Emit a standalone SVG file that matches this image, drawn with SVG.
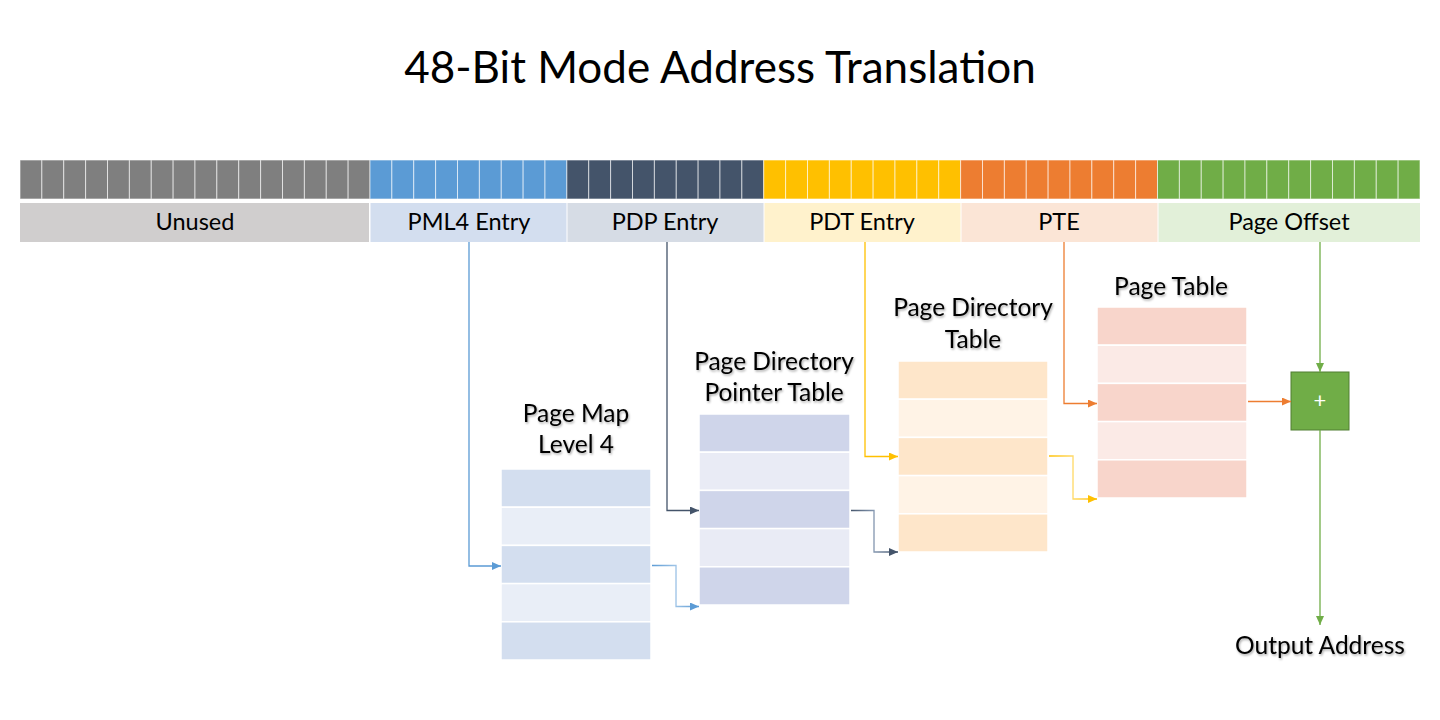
<svg xmlns="http://www.w3.org/2000/svg" width="1440" height="720" viewBox="0 0 1440 720">
<style>
text{font-family:Lato,"Open Sans","Liberation Sans",sans-serif;fill:#000;text-anchor:middle}
.title{font-size:44px}
.lbl{font-size:23.5px}
.tt{font-size:24.5px}
.bit{stroke:#fff;stroke-opacity:.6;stroke-width:1}
.g0{fill:#7F7F7F}.g1{fill:#5B9BD5}.g2{fill:#44546A}.g3{fill:#FFC000}.g4{fill:#ED7D31}.g5{fill:#70AD47}
.row{stroke:#fff;stroke-width:1.5}
.c{fill:none;stroke-width:1.3}
</style>
<defs>
<filter id="sh" x="-10%" y="-20%" width="120%" height="150%">
<feDropShadow dx="1" dy="1.5" stdDeviation="1" flood-color="#000" flood-opacity="0.35"/>
</filter>
<marker id="aBlue" markerUnits="userSpaceOnUse" markerWidth="9" markerHeight="8" refX="9" refY="4" orient="auto"><path d="M0,0L9,4L0,8z" fill="#5B9BD5"/></marker>
<marker id="aDark" markerUnits="userSpaceOnUse" markerWidth="9" markerHeight="8" refX="9" refY="4" orient="auto"><path d="M0,0L9,4L0,8z" fill="#44546A"/></marker>
<marker id="aGold" markerUnits="userSpaceOnUse" markerWidth="9" markerHeight="8" refX="9" refY="4" orient="auto"><path d="M0,0L9,4L0,8z" fill="#FFC000"/></marker>
<marker id="aOrange" markerUnits="userSpaceOnUse" markerWidth="9" markerHeight="8" refX="9" refY="4" orient="auto"><path d="M0,0L9,4L0,8z" fill="#ED7D31"/></marker>
<marker id="aGreen" markerUnits="userSpaceOnUse" markerWidth="9" markerHeight="8" refX="9" refY="4" orient="auto"><path d="M0,0L9,4L0,8z" fill="#70AD47"/></marker>
<linearGradient id="gBlue" gradientUnits="userSpaceOnUse" x1="651" y1="0" x2="699" y2="0"><stop offset="0" stop-color="#5B9BD5"/><stop offset="0.5" stop-color="#9DC3E6"/><stop offset="1" stop-color="#5B9BD5"/></linearGradient>
<linearGradient id="gDark" gradientUnits="userSpaceOnUse" x1="850" y1="0" x2="898" y2="0"><stop offset="0" stop-color="#44546A"/><stop offset="0.5" stop-color="#8497B0"/><stop offset="1" stop-color="#44546A"/></linearGradient>
<linearGradient id="gGold" gradientUnits="userSpaceOnUse" x1="1048" y1="0" x2="1097" y2="0"><stop offset="0" stop-color="#FFC000"/><stop offset="0.5" stop-color="#FFD966"/><stop offset="1" stop-color="#FFC000"/></linearGradient>
</defs>
<rect width="1440" height="720" fill="#fff"/>
<text class="title" x="720" y="83">48-Bit Mode Address Translation</text>

<g id="bits">
<rect class="bit g0" x="20" y="160" width="21.875" height="39"/>
<rect class="bit g0" x="41.875" y="160" width="21.875" height="39"/>
<rect class="bit g0" x="63.75" y="160" width="21.875" height="39"/>
<rect class="bit g0" x="85.625" y="160" width="21.875" height="39"/>
<rect class="bit g0" x="107.5" y="160" width="21.875" height="39"/>
<rect class="bit g0" x="129.375" y="160" width="21.875" height="39"/>
<rect class="bit g0" x="151.25" y="160" width="21.875" height="39"/>
<rect class="bit g0" x="173.125" y="160" width="21.875" height="39"/>
<rect class="bit g0" x="195" y="160" width="21.875" height="39"/>
<rect class="bit g0" x="216.875" y="160" width="21.875" height="39"/>
<rect class="bit g0" x="238.75" y="160" width="21.875" height="39"/>
<rect class="bit g0" x="260.625" y="160" width="21.875" height="39"/>
<rect class="bit g0" x="282.5" y="160" width="21.875" height="39"/>
<rect class="bit g0" x="304.375" y="160" width="21.875" height="39"/>
<rect class="bit g0" x="326.25" y="160" width="21.875" height="39"/>
<rect class="bit g0" x="348.125" y="160" width="21.875" height="39"/>
<rect class="bit g1" x="370" y="160" width="21.875" height="39"/>
<rect class="bit g1" x="391.875" y="160" width="21.875" height="39"/>
<rect class="bit g1" x="413.75" y="160" width="21.875" height="39"/>
<rect class="bit g1" x="435.625" y="160" width="21.875" height="39"/>
<rect class="bit g1" x="457.5" y="160" width="21.875" height="39"/>
<rect class="bit g1" x="479.375" y="160" width="21.875" height="39"/>
<rect class="bit g1" x="501.25" y="160" width="21.875" height="39"/>
<rect class="bit g1" x="523.125" y="160" width="21.875" height="39"/>
<rect class="bit g1" x="545" y="160" width="21.875" height="39"/>
<rect class="bit g2" x="566.875" y="160" width="21.875" height="39"/>
<rect class="bit g2" x="588.75" y="160" width="21.875" height="39"/>
<rect class="bit g2" x="610.625" y="160" width="21.875" height="39"/>
<rect class="bit g2" x="632.5" y="160" width="21.875" height="39"/>
<rect class="bit g2" x="654.375" y="160" width="21.875" height="39"/>
<rect class="bit g2" x="676.25" y="160" width="21.875" height="39"/>
<rect class="bit g2" x="698.125" y="160" width="21.875" height="39"/>
<rect class="bit g2" x="720" y="160" width="21.875" height="39"/>
<rect class="bit g2" x="741.875" y="160" width="21.875" height="39"/>
<rect class="bit g3" x="763.75" y="160" width="21.875" height="39"/>
<rect class="bit g3" x="785.625" y="160" width="21.875" height="39"/>
<rect class="bit g3" x="807.5" y="160" width="21.875" height="39"/>
<rect class="bit g3" x="829.375" y="160" width="21.875" height="39"/>
<rect class="bit g3" x="851.25" y="160" width="21.875" height="39"/>
<rect class="bit g3" x="873.125" y="160" width="21.875" height="39"/>
<rect class="bit g3" x="895" y="160" width="21.875" height="39"/>
<rect class="bit g3" x="916.875" y="160" width="21.875" height="39"/>
<rect class="bit g3" x="938.75" y="160" width="21.875" height="39"/>
<rect class="bit g4" x="960.625" y="160" width="21.875" height="39"/>
<rect class="bit g4" x="982.5" y="160" width="21.875" height="39"/>
<rect class="bit g4" x="1004.375" y="160" width="21.875" height="39"/>
<rect class="bit g4" x="1026.25" y="160" width="21.875" height="39"/>
<rect class="bit g4" x="1048.125" y="160" width="21.875" height="39"/>
<rect class="bit g4" x="1070" y="160" width="21.875" height="39"/>
<rect class="bit g4" x="1091.875" y="160" width="21.875" height="39"/>
<rect class="bit g4" x="1113.75" y="160" width="21.875" height="39"/>
<rect class="bit g4" x="1135.625" y="160" width="21.875" height="39"/>
<rect class="bit g5" x="1157.5" y="160" width="21.875" height="39"/>
<rect class="bit g5" x="1179.375" y="160" width="21.875" height="39"/>
<rect class="bit g5" x="1201.25" y="160" width="21.875" height="39"/>
<rect class="bit g5" x="1223.125" y="160" width="21.875" height="39"/>
<rect class="bit g5" x="1245" y="160" width="21.875" height="39"/>
<rect class="bit g5" x="1266.875" y="160" width="21.875" height="39"/>
<rect class="bit g5" x="1288.75" y="160" width="21.875" height="39"/>
<rect class="bit g5" x="1310.625" y="160" width="21.875" height="39"/>
<rect class="bit g5" x="1332.5" y="160" width="21.875" height="39"/>
<rect class="bit g5" x="1354.375" y="160" width="21.875" height="39"/>
<rect class="bit g5" x="1376.25" y="160" width="21.875" height="39"/>
<rect class="bit g5" x="1398.125" y="160" width="21.875" height="39"/>
</g>

<g id="field-unused"><rect x="20" y="203" width="349" height="39" fill="#D0CECE"/><text class="lbl" x="195" y="230">Unused</text></g>
<g id="field-pml4"><rect x="370.5" y="203" width="196" height="39" fill="#D3DEEF"/><text class="lbl" x="469" y="230">PML4 Entry</text></g>
<g id="field-pdp"><rect x="567.5" y="203" width="196" height="39" fill="#D6DCE5"/><text class="lbl" x="665" y="230">PDP Entry</text></g>
<g id="field-pdt"><rect x="764.5" y="203" width="196" height="39" fill="#FFF2CC"/><text class="lbl" x="862" y="230">PDT Entry</text></g>
<g id="field-pte"><rect x="961.5" y="203" width="196" height="39" fill="#FBE5D6"/><text class="lbl" x="1059" y="230">PTE</text></g>
<g id="field-offset"><rect x="1158.5" y="203" width="261.5" height="39" fill="#E2F0D9"/><text class="lbl" x="1289" y="230">Page Offset</text></g>

<g id="pml4-table">
<text class="tt" x="576" y="422" filter="url(#sh)">Page Map</text>
<text class="tt" x="576" y="453" filter="url(#sh)">Level 4</text>
<rect class="row" x="501" y="469" width="150" height="38.2" fill="#D3DEEF"/>
<rect class="row" x="501" y="507.2" width="150" height="38.2" fill="#E9EEF7"/>
<rect class="row" x="501" y="545.4" width="150" height="38.2" fill="#D3DEEF"/>
<rect class="row" x="501" y="583.6" width="150" height="38.2" fill="#E9EEF7"/>
<rect class="row" x="501" y="621.8" width="150" height="38.2" fill="#D3DEEF"/>
</g>

<g id="pdpt-table">
<text class="tt" x="774" y="370" filter="url(#sh)">Page Directory</text>
<text class="tt" x="774" y="401" filter="url(#sh)">Pointer Table</text>
<rect class="row" x="699" y="414" width="151" height="38.2" fill="#CFD5EA"/>
<rect class="row" x="699" y="452.2" width="151" height="38.2" fill="#E9EBF5"/>
<rect class="row" x="699" y="490.4" width="151" height="38.2" fill="#CFD5EA"/>
<rect class="row" x="699" y="528.6" width="151" height="38.2" fill="#E9EBF5"/>
<rect class="row" x="699" y="566.8" width="151" height="38.2" fill="#CFD5EA"/>
</g>

<g id="pdt-table">
<text class="tt" x="973" y="316" filter="url(#sh)">Page Directory</text>
<text class="tt" x="973" y="348" filter="url(#sh)">Table</text>
<rect class="row" x="898" y="361" width="150" height="38.2" fill="#FEE6CA"/>
<rect class="row" x="898" y="399.2" width="150" height="38.2" fill="#FFF3E6"/>
<rect class="row" x="898" y="437.4" width="150" height="38.2" fill="#FEE6CA"/>
<rect class="row" x="898" y="475.6" width="150" height="38.2" fill="#FFF3E6"/>
<rect class="row" x="898" y="513.8" width="150" height="38.2" fill="#FEE6CA"/>
</g>

<g id="pt-table">
<text class="tt" x="1171" y="295" filter="url(#sh)">Page Table</text>
<rect class="row" x="1097" y="307" width="150" height="38.2" fill="#F8D5CB"/>
<rect class="row" x="1097" y="345.2" width="150" height="38.2" fill="#FBEAE6"/>
<rect class="row" x="1097" y="383.4" width="150" height="38.2" fill="#F8D5CB"/>
<rect class="row" x="1097" y="421.6" width="150" height="38.2" fill="#FBEAE6"/>
<rect class="row" x="1097" y="459.8" width="150" height="38.2" fill="#F8D5CB"/>
</g>

<g id="adder">
<rect x="1291" y="372" width="58" height="58" fill="#70AD47" stroke="#507E32" stroke-width="1"/>
<text x="1320" y="408" style="font-size:22px;fill:#fff">+</text>
</g>

<g id="output">
<text class="lbl" x="1320" y="654" style="font-size:24.5px" filter="url(#sh)">Output Address</text>
</g>

<g id="connectors">
<path class="c" d="M469,242V566H501" stroke="#5B9BD5" marker-end="url(#aBlue)"/>
<path class="c" d="M652,565.5H676V606.5H699" stroke="url(#gBlue)" marker-end="url(#aBlue)"/>
<path class="c" d="M667,242V510.5H699" stroke="#44546A" marker-end="url(#aDark)"/>
<path class="c" d="M851,510.5H874V552H898" stroke="url(#gDark)" marker-end="url(#aDark)"/>
<path class="c" d="M865,242V456.5H898" stroke="#FFC000" marker-end="url(#aGold)"/>
<path class="c" d="M1049,456H1073V499H1097" stroke="url(#gGold)" marker-end="url(#aGold)"/>
<path class="c" d="M1064,242V403.5H1097" stroke="#ED7D31" marker-end="url(#aOrange)"/>
<path class="c" d="M1248,401.5H1291" stroke="#ED7D31" marker-end="url(#aOrange)"/>
<path class="c" d="M1320,242V372" stroke="#70AD47" marker-end="url(#aGreen)"/>
<path class="c" d="M1320,430V625" stroke="#70AD47" marker-end="url(#aGreen)"/>
</g>
</svg>
